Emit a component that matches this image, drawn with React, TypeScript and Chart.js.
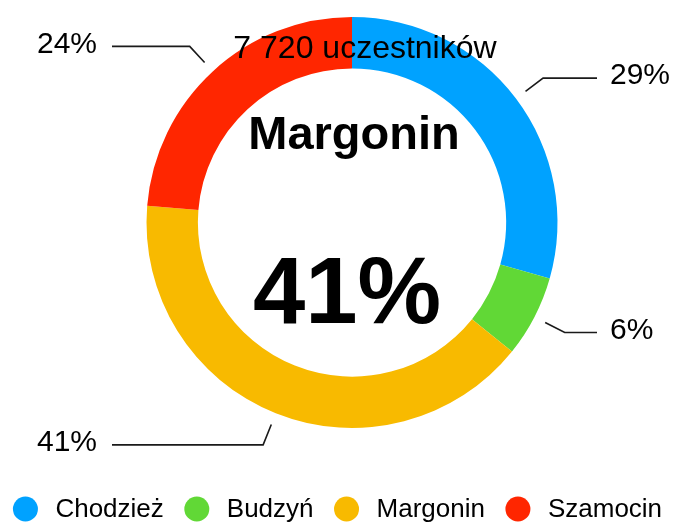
import React, { useEffect, useRef } from 'react';
import { Chart, registerables } from 'chart.js';

Chart.register(...registerables);

const categories = ['Chodzież', 'Budzyń', 'Margonin', 'Szamocin'];
const shares = [29.4, 6.4, 40.5, 23.7];
const colors = ['#00A2FF', '#61D836', '#F8BA00', '#FF2600'];
const participantsLabel = '7 720 uczestników';
const highlightIndex = 2;

const FONT = '"Liberation Sans", Arial, Helvetica, sans-serif';

const calloutPlugin = {
  id: 'callouts',
  afterDatasetsDraw(chart: any) {
    const ctx = chart.ctx;
    const meta = chart.getDatasetMeta(0);
    ctx.save();
    let cx = 0;
    let cy = 0;
    meta.data.forEach((arc: any, i: number) => {
      const { x, y, startAngle, endAngle, outerRadius } = arc.getProps(
        ['x', 'y', 'startAngle', 'endAngle', 'outerRadius'],
        true
      );
      cx = x;
      cy = y;
      const mid = (startAngle + endAngle) / 2;
      const cos = Math.cos(mid);
      const sin = Math.sin(mid);
      const r1 = outerRadius + 12;
      const r2 = outerRadius + 34;
      const x1 = x + cos * r1;
      const y1 = y + sin * r1;
      const x2 = x + cos * r2;
      const y2 = y + sin * r2;
      const right = cos >= 0;
      const x3 = right ? x + 245 : x - 240;
      ctx.strokeStyle = '#1a1a1a';
      ctx.lineWidth = 1.6;
      ctx.beginPath();
      ctx.moveTo(x1, y1);
      ctx.lineTo(x2, y2);
      ctx.lineTo(x3, y2);
      ctx.stroke();
      ctx.font = '30px ' + FONT;
      ctx.fillStyle = '#000';
      ctx.textBaseline = 'middle';
      ctx.textAlign = right ? 'left' : 'right';
      ctx.fillText(Math.round(shares[i]) + '%', right ? x3 + 13 : x3 - 15, y2 - 2);
    });

    ctx.fillStyle = '#000';
    ctx.textAlign = 'center';
    ctx.textBaseline = 'alphabetic';
    ctx.font = '32px ' + FONT;
    ctx.fillText(participantsLabel, cx + 13, cy - 165);
    ctx.font = 'bold 47px ' + FONT;
    ctx.fillText(categories[highlightIndex], cx + 2, cy - 74);
    ctx.font = 'bold 94px ' + FONT;
    ctx.fillText(Math.round(shares[highlightIndex]) + '%', cx - 5, cy + 100);
    ctx.restore();
  },
};

const legendPlugin = {
  id: 'customLegend',
  afterDraw(chart: any) {
    const ctx = chart.ctx;
    const labels: string[] = chart.data.labels;
    const bg: string[] = chart.data.datasets[0].backgroundColor;
    const radius = 12.5;
    const gapToText = 17.5;
    const gapToNext = 20.5;
    const cyLegend = 509;
    ctx.save();
    ctx.font = '26px ' + FONT;
    const widths = labels.map((l) => ctx.measureText(l).width);
    const total =
      widths.reduce((a, w) => a + 2 * radius + gapToText + w, 0) +
      gapToNext * (labels.length - 1);
    let x = chart.width / 2 - total / 2;
    labels.forEach((l, i) => {
      ctx.fillStyle = bg[i];
      ctx.beginPath();
      ctx.arc(x + radius, cyLegend, radius, 0, Math.PI * 2);
      ctx.fill();
      x += 2 * radius + gapToText;
      ctx.fillStyle = '#000';
      ctx.textAlign = 'left';
      ctx.textBaseline = 'middle';
      ctx.fillText(l, x, cyLegend + 1);
      x += widths[i] + gapToNext;
    });
    ctx.restore();
  },
};

export default function App() {
  const canvasRef = useRef<HTMLCanvasElement | null>(null);

  useEffect(() => {
    if (!canvasRef.current) return;
    const chart = new Chart(canvasRef.current, {
      type: 'doughnut',
      data: {
        labels: categories,
        datasets: [
          {
            data: shares,
            backgroundColor: colors,
            borderWidth: 0,
            hoverOffset: 0,
            offset: 0,
          } as any,
        ],
      },
      options: {
        responsive: false,
        animation: false,
        cutout: '75%',
        layout: { padding: { left: 32, right: 3, top: 17, bottom: 95 } },
        plugins: {
          legend: { display: false },
          tooltip: { enabled: false },
        },
        events: [],
      } as any,
      plugins: [calloutPlugin, legendPlugin],
    });
    return () => chart.destroy();
  }, []);

  return (
    <div style={{ position: 'fixed', left: 0, top: 0, width: 675, height: 523, background: '#fff' }}>
      <canvas ref={canvasRef} width={675} height={523} style={{ display: 'block' }} />
    </div>
  );
}
